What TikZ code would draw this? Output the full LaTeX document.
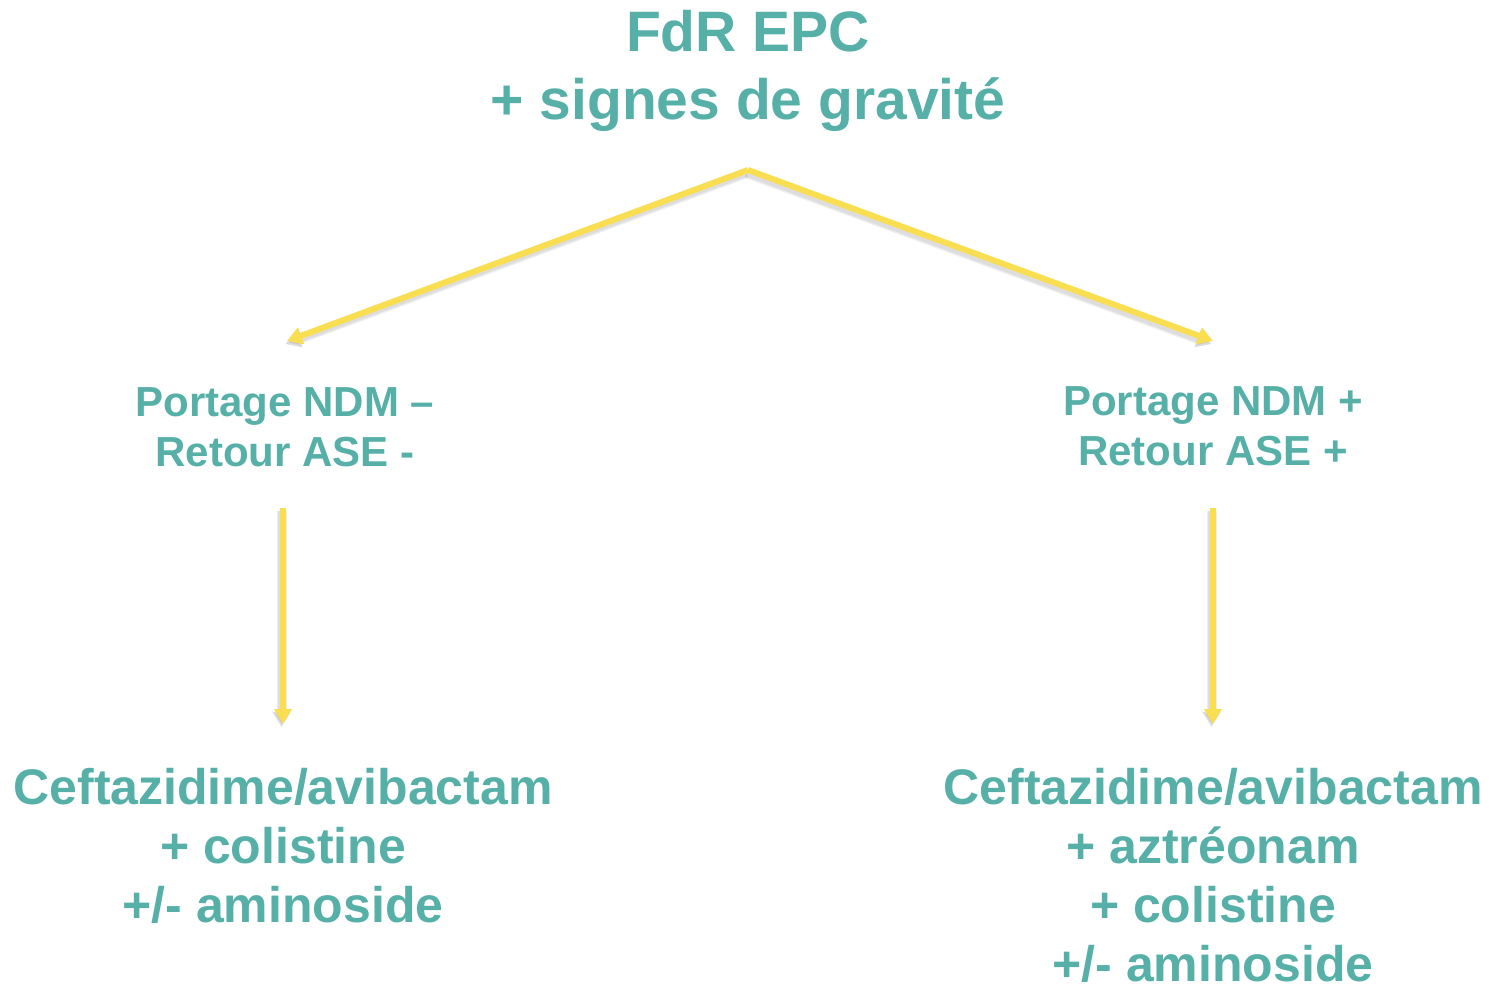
\documentclass[tikz,border=0pt]{standalone}
\usepackage{fontspec}
\setmainfont{Liberation Sans}
\usetikzlibrary{arrows.meta}
\definecolor{epcteal}{RGB}{86,176,168}
\definecolor{epcyellow}{RGB}{250,222,82}

\begin{document}
\begin{tikzpicture}[x=1pt,y=-1pt,
    main text/.style={text=epcteal,align=center,inner sep=0pt,font=\bfseries},
    big text/.style={main text,font=\bfseries\fontsize{57}{68}\selectfont},
    mid text/.style={main text,font=\bfseries\fontsize{42}{50}\selectfont},
    low text/.style={main text,font=\bfseries\fontsize{50}{59}\selectfont},
    link/.style={draw=epcyellow,line width=6pt,-{Triangle[width=17pt,length=15pt]}},
    link shadow/.style={link,draw=black!40,opacity=0.18,transform canvas={shift={(-1.5pt,-3pt)}}}]
                \useasboundingbox (0,0) rectangle (1489,985);

                \node[big text] (1) at (748,71) {FdR EPC\\+ signes de gravité};
                \node[mid text] (2) at (285,427) {Portage NDM –\\Retour ASE -};
                \node[mid text] (3) at (1213,426) {Portage NDM +\\Retour ASE +};
                \node[low text] (4) at (283,846) {Ceftazidime/avibactam\\+ colistine\\+/- aminoside};
                \node[low text] (5) at (1213,875) {Ceftazidime/avibactam\\+ aztréonam\\+ colistine\\+/- aminoside};

                \coordinate (fork) at (748,170);
                \coordinate (2in) at (287,341);
                \coordinate (3in) at (1213,341);
                \coordinate (2out) at (283,508);
                \coordinate (4in) at (283,724);
                \coordinate (3out) at (1213,508);
                \coordinate (5in) at (1213,724);

                % shadows
                \foreach \w in {10,7}{
                    \draw[link shadow,line width=\w pt] (fork) -- (2in);
                    \draw[link shadow,line width=\w pt] (fork) -- (3in);
                    \draw[link shadow,line width=\w pt] (2out) -- (4in);
                    \draw[link shadow,line width=\w pt] (3out) -- (5in);
                }
                % arrows
                \draw[link] (fork) -- (2in);
                \draw[link] (fork) -- (3in);
                \draw[link] (2out) -- (4in);
                \draw[link] (3out) -- (5in);
\end{tikzpicture}
\end{document}
